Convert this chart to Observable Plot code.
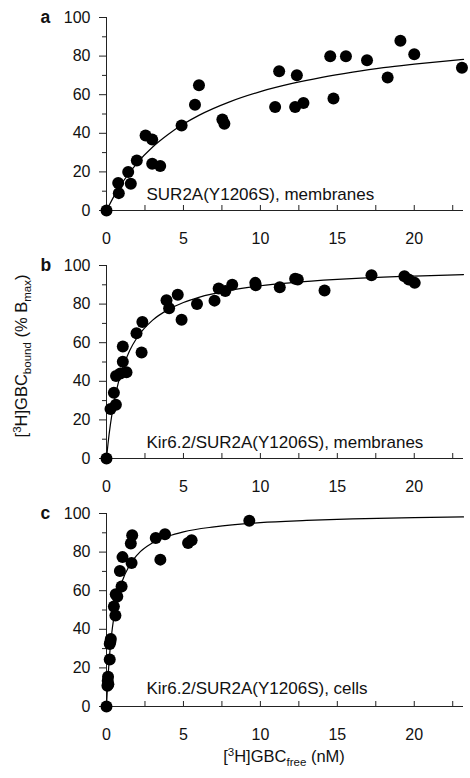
<!DOCTYPE html>
<html>
<head>
<meta charset="utf-8">
<script src="https://cdn.jsdelivr.net/npm/d3@7"></script>
<script src="https://cdn.jsdelivr.net/npm/@observablehq/plot@0.6"></script>
<style>
  body { margin: 0; background: #fff; }
  #chart svg { display: block; }
</style>
</head>
<body>
<div id="chart"></div>
<script>
// ---------- data ----------
const xTickValues = [0, 2.5, 5, 7.5, 10, 12.5, 15, 17.5, 20, 22.5];
const xLabelValues = [0, 5, 10, 15, 20];
const yMajorTicks = [0, 20, 40, 60, 80, 100];
const yMinorTicks = [10, 30, 50, 70, 90];

// panel a: SUR2A(Y1206S), membranes
const aFree  = [0, 0.76, 0.80, 1.41, 1.58, 1.97, 2.54, 2.97, 2.97, 3.49, 4.88, 5.75, 6.01, 7.53, 7.66, 10.96, 11.22, 12.26, 12.37, 12.8, 14.54, 14.75, 15.56, 16.93, 18.27, 19.1, 20.0, 23.1];
const aBound = [0, 14.2, 9.0, 19.9, 13.8, 25.9, 38.9, 36.8, 24.2, 23.0, 44.1, 54.8, 64.9, 47.1, 45.0, 53.6, 72.1, 53.6, 70.1, 55.7, 79.9, 58.0, 79.9, 77.8, 68.9, 87.9, 81.0, 74.0];
const aFitX  = [0, 0.5, 1, 2, 3, 4, 5, 6, 8, 10, 12, 14, 16, 18, 20, 23.2];
const aFitY  = [0, 7.6, 14.1, 24.7, 32.9, 39.4, 44.8, 49.3, 56.3, 61.6, 65.7, 69.0, 71.7, 74.0, 75.8, 78.3];

// panel b: Kir6.2/SUR2A(Y1206S), membranes
const bFree  = [0, 0.26, 0.48, 0.61, 0.62, 0.9, 1.06, 1.06, 1.3, 1.95, 2.28, 2.33, 3.9, 4.07, 4.63, 4.88, 5.88, 7.02, 7.29, 7.72, 8.17, 9.67, 9.7, 11.26, 12.26, 12.43, 14.17, 17.22, 19.36, 19.64, 20.03];
const bBound = [0, 25.6, 34.1, 27.9, 42.8, 44.0, 58.0, 50.1, 44.7, 64.9, 54.9, 70.7, 82.0, 77.9, 84.9, 71.9, 80.1, 81.8, 88.1, 86.8, 90.0, 91.0, 89.8, 88.7, 93.1, 92.7, 87.0, 95.0, 94.4, 92.7, 91.0];
const bFitX  = [0, 0.1, 0.25, 0.5, 0.75, 1, 1.5, 2, 3, 4, 5, 6, 8, 10, 12, 15, 18, 20, 23.2];
const bFitY  = [0, 7.8, 17.4, 29.6, 38.7, 45.7, 55.8, 62.8, 71.7, 77.1, 80.8, 83.5, 87.1, 89.5, 91.1, 92.8, 94.0, 94.5, 95.3];

// panel c: Kir6.2/SUR2A(Y1206S), cells
const cFree  = [0, 0.06, 0.08, 0.1, 0.12, 0.21, 0.21, 0.25, 0.28, 0.48, 0.58, 0.6, 0.7, 0.87, 0.98, 1.04, 1.58, 1.63, 1.67, 3.2, 3.5, 3.8, 5.3, 5.53, 9.28];
const cBound = [0, 10.8, 13.4, 15.4, 11.5, 24.3, 32.4, 33.5, 35.0, 51.8, 47.1, 58.1, 57.0, 70.2, 62.2, 77.4, 84.4, 74.3, 88.7, 87.3, 76.1, 89.2, 84.7, 86.1, 96.2];
const cFitX  = [0, 0.05, 0.1, 0.2, 0.3, 0.5, 0.75, 1, 1.5, 2, 3, 4, 5, 7, 10, 13, 16, 20, 23.2];
const cFitY  = [0, 8.3, 15.2, 26.5, 35.1, 47.5, 57.6, 64.5, 73.2, 78.6, 84.8, 88.2, 90.5, 93.1, 95.3, 96.4, 97.2, 97.9, 98.2];

const panelLetters = ["a", "b", "c"];
const panelLabels = ["SUR2A(Y1206S), membranes", "Kir6.2/SUR2A(Y1206S), membranes", "Kir6.2/SUR2A(Y1206S), cells"];

// ---------- drawing ----------
const FONT = "'Liberation Sans', Arial, Helvetica, sans-serif";
const AXIS = "#222";

function panel({free, bound, fitX, fitY, letter, label, marginTop, marginBottom, height, labelDy}) {
  const pts = free.map((x, i) => ({x, y: bound[i]}));
  const fit = fitX.map((x, i) => ({x, y: fitY[i]}));
  return Plot.plot({
    width: 470,
    height,
    marginTop,
    marginBottom,
    marginLeft: 106,
    marginRight: 7,
    style: {fontFamily: FONT, fontSize: "16px", color: "#111", background: "#fff", overflow: "visible"},
    x: {domain: [0, 23.2], label: null},
    y: {domain: [0, 100], label: null},
    marks: [
      Plot.ruleY([0], {stroke: AXIS, strokeWidth: 1}),
      Plot.ruleX([0], {stroke: AXIS, strokeWidth: 1}),
      Plot.axisX(xTickValues, {tickSize: -5, text: null, stroke: AXIS, label: null}),
      Plot.axisX(xLabelValues, {tickSize: 0, tickPadding: 22, fontSize: 16, label: null}),
      Plot.axisY(yMajorTicks, {tickSize: 7, tickPadding: 9, fontSize: 16, stroke: AXIS, label: null}),
      Plot.axisY(yMinorTicks, {tickSize: 4, text: null, stroke: AXIS, label: null}),
      Plot.line(fit, {x: "x", y: "y", stroke: "#000", strokeWidth: 1.2, curve: "monotone-x"}),
      Plot.dot(pts, {x: "x", y: "y", r: 6, fill: "#000", stroke: "none"}),
      Plot.text([label], {frameAnchor: "bottom-left", dx: 40, dy: labelDy, textAnchor: "start", lineAnchor: "bottom", fontSize: 17, fill: "#111"}),
      Plot.text([letter], {frameAnchor: "top-left", dx: -66, dy: 5.5, textAnchor: "start", lineAnchor: "bottom", fontSize: 17.5, fontWeight: "bold", fill: "#111"})
    ]
  });
}

const root = document.getElementById("chart");

const svgA = panel({free: aFree, bound: aBound, fitX: aFitX, fitY: aFitY, letter: panelLetters[0], label: panelLabels[0],
  marginTop: 17, marginBottom: 40, height: 250, labelDy: -11});
const svgB = panel({free: bFree, bound: bBound, fitX: bFitX, fitY: bFitY, letter: panelLetters[1], label: panelLabels[1],
  marginTop: 15, marginBottom: 42, height: 250, labelDy: -10.5});
const svgC = panel({free: cFree, bound: cBound, fitX: cFitX, fitY: cFitY, letter: panelLetters[2], label: panelLabels[2],
  marginTop: 13, marginBottom: 72, height: 278, labelDy: -13});

root.append(svgA, svgB, svgC);

// titles with sub/superscripts
function richText(sel, parts) {
  let shift = 0;
  for (const [t, kind] of parts) {
    const target = kind === "sup" ? -6 : kind === "sub" ? 4 : 0;
    const ts = sel.append("tspan").attr("dy", target - shift).text(t);
    if (kind) ts.attr("font-size", 11.5);
    shift = target;
  }
}

const yt = d3.select(svgB).append("text")
  .attr("transform", "translate(27,106) rotate(-90)")
  .attr("text-anchor", "middle")
  .attr("font-family", FONT)
  .attr("font-size", 16.5)
  .attr("fill", "#111");
richText(yt, [["[", null], ["3", "sup"], ["H]GBC", null], ["bound", "sub"], [" (% B", null], ["max", "sub"], [")", null]]);

const xt = d3.select(svgC).append("text")
  .attr("transform", "translate(284,262)")
  .attr("text-anchor", "middle")
  .attr("font-family", FONT)
  .attr("font-size", 16.5)
  .attr("fill", "#111");
richText(xt, [["[", null], ["3", "sup"], ["H]GBC", null], ["free", "sub"], [" (nM)", null]]);
</script>
</body>
</html>
